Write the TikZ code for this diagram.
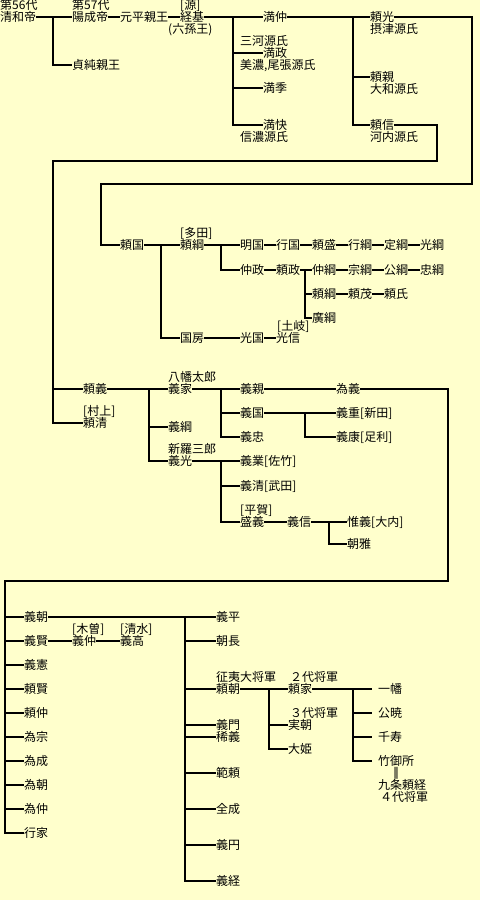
\documentclass[tikz,border=0pt]{standalone}
\usepackage{fontspec}
\setmainfont{Noto Sans CJK JP}
\newfontfamily\djv{DejaVu Sans}
\definecolor{bgc}{HTML}{FFFFCC}
\begin{document}
\begin{tikzpicture}[x=1pt,y=-1pt,
  nm/.style={inner sep=0pt,anchor=west,text height=10pt,text depth=2pt,font=\fontsize{12pt}{12pt}\selectfont},
  gp/.style={nm,inner xsep=6pt},
  ln/.style={line width=2pt},
]
\fill[bgc] (0,0) rectangle (480,900);
\useasboundingbox (0,0) rectangle (480,900);

% ---------- top ----------
\node[nm] (seiwaA) at (0,5) {第56代};
\node[nm] (seiwa) at (0,17) {清和帝};
\node[nm] (yozeiA) at (72,5) {第57代};
\node[nm] (yozei) at (72,17) {陽成帝};
\node[nm] (motohira) at (120,17) {元平親王};
\node[nm] (sadazumi) at (72,65) {貞純親王};
\node[nm] (tsuneA) at (180,5) {[源]};
\node[nm] (tsune) at (180,17) {経基};
\node[nm] (tsuneB) at (168,29) {(六孫王)};
\node[nm] (mitsunaka) at (263,17) {満仲};
\node[nm] (mikawa) at (240,41) {三河源氏};
\node[nm] (mitsumasa) at (263,53) {満政};
\node[nm] (mino) at (240,65) {美濃,尾張源氏};
\node[nm] (mitsusue) at (263,88) {満季};
\node[nm] (mitsuyoshi) at (263,125) {満快};
\node[nm] (shinano) at (240,137) {信濃源氏};
\node[nm] (yorimitsu) at (370,17) {頼光};
\node[nm] (settsu) at (370,29) {摂津源氏};
\node[nm] (yorichika) at (370,77) {頼親};
\node[nm] (yamato) at (370,89) {大和源氏};
\node[nm] (yorinobu) at (370,125) {頼信};
\node[nm] (kawachi) at (370,137) {河内源氏};

\draw[ln] (seiwa.east) -- (yozei.west);
\draw[ln] (seiwa.east -| 53,0) |- (sadazumi.west);
\draw[ln] (yozei.east) -- (motohira.west);
\draw[ln] (motohira.east) -- (tsune.west);
\draw[ln] (tsune.east) -- (mitsunaka.west);
\draw[ln] (tsune.east -| 233,0) |- (mitsumasa.west);
\draw[ln] (tsune.east -| 233,0) |- (mitsusue.west);
\draw[ln] (tsune.east -| 233,0) |- (mitsuyoshi.west);
\draw[ln] (mitsunaka.east) -- (yorimitsu.west);
\draw[ln] (mitsunaka.east -| 353,0) |- (yorichika.west);
\draw[ln] (mitsunaka.east -| 353,0) |- (yorinobu.west);

% ---------- Tada line ----------
\node[nm] (yorikuni) at (120,245) {頼国};
\node[nm] (tadaA) at (180,233) {[多田]};
\node[nm] (yoritsuna) at (180,245) {頼綱};
\node[nm] (akikuni) at (240,245) {明国};
\node[nm] (yukikuni) at (276,245) {行国};
\node[nm] (yorimori) at (312,245) {頼盛};
\node[nm] (yukitsuna) at (348,245) {行綱};
\node[nm] (sadatsuna) at (384,245) {定綱};
\node[nm] (mitsutsuna) at (420,245) {光綱};
\node[nm] (nakamasa) at (240,270) {仲政};
\node[nm] (yorimasa) at (276,270) {頼政};
\node[nm] (nakatsuna) at (312,270) {仲綱};
\node[nm] (munetsuna) at (348,270) {宗綱};
\node[nm] (kintsuna) at (384,270) {公綱};
\node[nm] (tadatsuna) at (420,270) {忠綱};
\node[nm] (yoritsunaB) at (312,294) {頼綱};
\node[nm] (yorimochi) at (348,294) {頼茂};
\node[nm] (yoriuji) at (384,294) {頼氏};
\node[nm] (hirotsuna) at (312,318) {廣綱};
\node[nm] (kunifusa) at (180,338) {国房};
\node[nm] (mitsukuni) at (240,338) {光国};
\node[nm] (tokiA) at (277,326) {[土岐]};
\node[nm] (mitsunobu) at (276,338) {光信};

\coordinate (ca1) at (472,17);
\coordinate (ca2) at (472,184);
\coordinate (ca3) at (101,184);
\draw[ln] (yorimitsu.east) -- (ca1) -- (ca2) -- (ca3) |- (yorikuni.west);

\draw[ln] (yorikuni.east) -- (yoritsuna.west);
\draw[ln] (yorikuni.east -| 161,0) |- (kunifusa.west);
\draw[ln] (yoritsuna.east) -- (akikuni.west);
\draw[ln] (yoritsuna.east -| 221,0) |- (nakamasa.west);
\draw[ln] (akikuni.east) -- (yukikuni.west);
\draw[ln] (yukikuni.east) -- (yorimori.west);
\draw[ln] (yorimori.east) -- (yukitsuna.west);
\draw[ln] (yukitsuna.east) -- (sadatsuna.west);
\draw[ln] (sadatsuna.east) -- (mitsutsuna.west);
\draw[ln] (nakamasa.east) -- (yorimasa.west);
\draw[ln] (yorimasa.east) -- (nakatsuna.west);
\draw[ln] (yorimasa.east -| 305,0) |- (yoritsunaB.west);
\draw[ln] (yorimasa.east -| 305,0) |- (hirotsuna.west);
\draw[ln] (nakatsuna.east) -- (munetsuna.west);
\draw[ln] (munetsuna.east) -- (kintsuna.west);
\draw[ln] (kintsuna.east) -- (tadatsuna.west);
\draw[ln] (yoritsunaB.east) -- (yorimochi.west);
\draw[ln] (yorimochi.east) -- (yoriuji.west);
\draw[ln] (kunifusa.east) -- (mitsukuni.west);
\draw[ln] (mitsukuni.east) -- (mitsunobu.west);

% ---------- Kawachi line ----------
\node[nm] (yoriyoshi) at (83,389) {頼義};
\node[nm] (murakamiA) at (83,411) {[村上]};
\node[nm] (yorikiyo) at (83,423) {頼清};
\node[nm] (hachimanA) at (168,377) {八幡太郎};
\node[nm] (yoshiie) at (168,389) {義家};
\node[nm] (yoshitsunaA) at (168,427) {義綱};
\node[nm] (shiraA) at (168,449) {新羅三郎};
\node[nm] (yoshimitsu) at (168,461) {義光};
\node[nm] (yoshichika) at (240,389) {義親};
\node[nm] (yoshikuni) at (240,413) {義国};
\node[nm] (yoshitada) at (240,437) {義忠};
\node[nm] (tameyoshi) at (336,389) {為義};
\node[nm] (yoshishige) at (336,413) {義重[新田]};
\node[nm] (yoshiyasu) at (336,437) {義康[足利]};
\node[nm] (yoshinari) at (240,461) {義業[佐竹]};
\node[nm] (yoshikiyo) at (240,486) {義清[武田]};
\node[nm] (hiragaA) at (240,510) {[平賀]};
\node[nm] (moriyoshi) at (240,522) {盛義};
\node[nm] (yoshinobu) at (287,522) {義信};
\node[nm] (koreyoshi) at (347,522) {惟義[大内]};
\node[nm] (tomomasa) at (347,544) {朝雅};

\coordinate (cb1) at (437,125);
\coordinate (cb2) at (437,161);
\coordinate (cb3) at (53,161);
\draw[ln] (yorinobu.east) -- (cb1) -- (cb2) -- (cb3) |- (yorikiyo.west);
\draw[ln] (cb3 |- yoriyoshi.west) -- (yoriyoshi.west);

\draw[ln] (yoriyoshi.east) -- (yoshiie.west);
\draw[ln] (yoriyoshi.east -| 149,0) |- (yoshitsunaA.west);
\draw[ln] (yoriyoshi.east -| 149,0) |- (yoshimitsu.west);
\draw[ln] (yoshiie.east) -- (yoshichika.west);
\draw[ln] (yoshiie.east -| 221,0) |- (yoshikuni.west);
\draw[ln] (yoshiie.east -| 221,0) |- (yoshitada.west);
\draw[ln] (yoshichika.east) -- (tameyoshi.west);
\draw[ln] (yoshikuni.east) -- (yoshishige.west);
\draw[ln] (yoshikuni.east -| 305,0) |- (yoshiyasu.west);
\draw[ln] (yoshimitsu.east) -- (yoshinari.west);
\draw[ln] (yoshimitsu.east -| 221,0) |- (yoshikiyo.west);
\draw[ln] (yoshimitsu.east -| 221,0) |- (moriyoshi.west);
\draw[ln] (moriyoshi.east) -- (yoshinobu.west);
\draw[ln] (yoshinobu.east) -- (koreyoshi.west);
\draw[ln] (yoshinobu.east -| 329,0) |- (tomomasa.west);

% ---------- Tameyoshi's sons ----------
\node[nm] (yoshitomo) at (24,617) {義朝};
\node[nm] (yoshikata) at (24,641) {義賢};
\node[nm] (yoshinori) at (24,665) {義憲};
\node[nm] (yorikata) at (24,689) {頼賢};
\node[nm] (yorinaka) at (24,713) {頼仲};
\node[nm] (tamemune) at (24,737) {為宗};
\node[nm] (tamenari) at (24,761) {為成};
\node[nm] (tametomo) at (24,785) {為朝};
\node[nm] (tamenaka) at (24,809) {為仲};
\node[nm] (yukiie) at (24,833) {行家};
\node[nm] (kisoA) at (72,629) {[木曽]};
\node[nm] (yoshinaka) at (72,641) {義仲};
\node[nm] (shimizuA) at (120,629) {[清水]};
\node[nm] (yoshitaka) at (120,641) {義高};

\coordinate (cc1) at (448,389);
\coordinate (cc2) at (448,581);
\coordinate (cc3) at (5,581);
\draw[ln] (tameyoshi.east) -- (cc1) -- (cc2) -- (cc3) |- (yukiie.west);
\foreach \s in {yoshitomo,yoshikata,yoshinori,yorikata,yorinaka,tamemune,tamenari,tametomo,tamenaka}
  \draw[ln] (cc3 |- \s.west) -- (\s.west);
\draw[ln] (yoshikata.east) -- (yoshinaka.west);
\draw[ln] (yoshinaka.east) -- (yoshitaka.west);

% ---------- Yoshitomo's sons ----------
\node[nm] (yoshihira) at (216,617) {義平};
\node[nm] (tomonaga) at (216,641) {朝長};
\node[nm] (seiiA) at (216,677) {征夷大将軍};
\node[nm] (yoritomo) at (216,689) {頼朝};
\node[nm] (yoshikado) at (216,725) {義門};
\node[nm] (mareyoshi) at (216,737) {稀義};
\node[nm] (noriyori) at (216,773) {範頼};
\node[nm] (zenjo) at (216,809) {全成};
\node[nm] (gien) at (216,845) {義円};
\node[nm] (yoshitsune) at (216,881) {義経};

\coordinate (cd1) at (185,617);
\draw[ln] (yoshitomo.east) -- (yoshihira.west);
\draw[ln] (cd1) |- (yoshitsune.west);
\foreach \s in {tomonaga,yoritomo,yoshikado,mareyoshi,noriyori,zenjo,gien}
  \draw[ln] (cd1 |- \s.west) -- (\s.west);

\node[nm] (shogun2A) at (290,677) {２代将軍};
\node[nm] (yoriie) at (288,689) {頼家};
\node[nm] (shogun3A) at (290,713) {３代将軍};
\node[nm] (sanetomo) at (288,725) {実朝};
\node[nm] (ohime) at (288,749) {大姫};
\draw[ln] (yoritomo.east) -- (yoriie.west);
\draw[ln] (yoritomo.east -| 269,0) |- (sanetomo.west);
\draw[ln] (yoritomo.east -| 269,0) |- (ohime.west);

\node[gp] (ichiman) at (372,689) {一幡};
\node[gp] (kugyo) at (372,713) {公暁};
\node[gp] (senju) at (372,737) {千寿};
\node[gp] (takenogosho) at (372,761) {竹御所};
\node[inner sep=0pt,font=\djv\fontsize{12pt}{12pt}\selectfont] (marr) at (396,773) {‖};
\node[nm] (yoritsune) at (378,785) {九条頼経};
\node[nm] (shogun4A) at (380,797) {４代将軍};
\draw[ln] (yoriie.east) -- (ichiman.west);
\draw[ln] (yoriie.east -| 353,0) |- (kugyo.west);
\draw[ln] (yoriie.east -| 353,0) |- (senju.west);
\draw[ln] (yoriie.east -| 353,0) |- (takenogosho.west);
\end{tikzpicture}
\end{document}
